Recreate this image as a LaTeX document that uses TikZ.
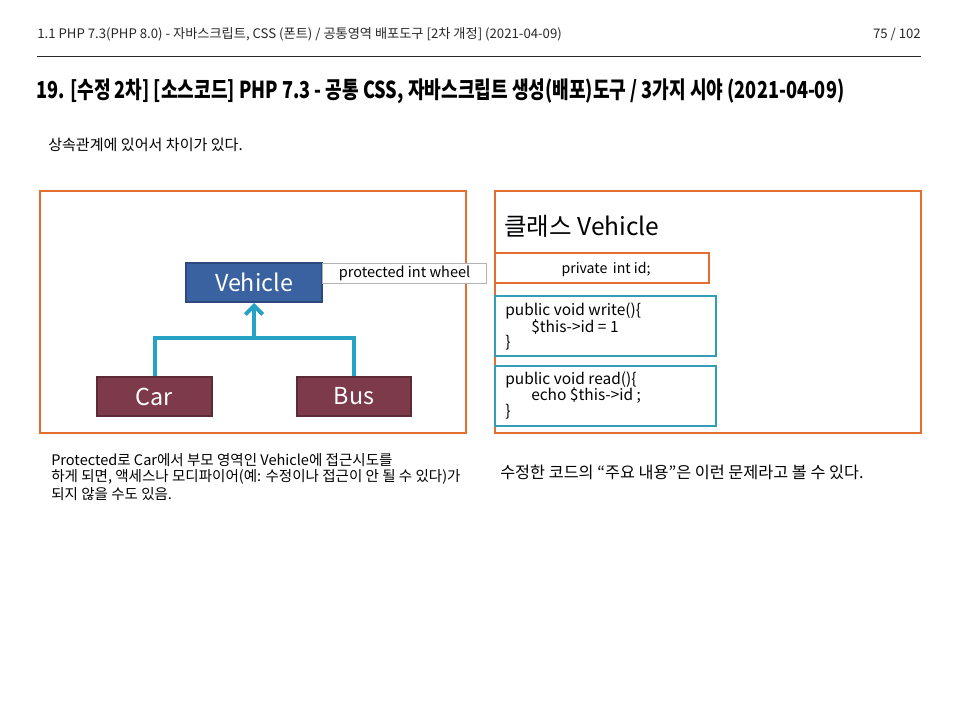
\documentclass[tikz,border=0pt]{standalone}
\usepackage{fontspec}
\setmainfont{Noto Sans CJK KR}
\usetikzlibrary{arrows.meta}
\definecolor{orng}{RGB}{228,110,48}
\definecolor{vblue}{RGB}{58,97,160}
\definecolor{vblueb}{RGB}{44,74,125}
\definecolor{maroon}{RGB}{124,58,75}
\definecolor{maroonb}{RGB}{94,42,56}
\definecolor{tealc}{RGB}{38,163,196}
\definecolor{tealb}{RGB}{52,156,182}
\definecolor{hdr}{RGB}{40,40,40}
\tikzset{
  panel/.style={draw=orng, line width=2pt},
  cls/.style={line width=1.5pt, minimum height=29.25pt, text=white, font=\fontsize{17.5}{20}\selectfont, inner sep=0pt},
  conn/.style={draw=tealc, line width=3pt},
  txt/.style={anchor=west, inner sep=0pt, font=\fontsize{9.5}{12}\selectfont},
  code/.style={anchor=west, inner sep=0pt, font=\fontsize{11.6}{14}\selectfont},
  note/.style={anchor=west, inner sep=0pt, font=\fontsize{10.9}{13}\selectfont},
  codebox/.style={draw=tealb, line width=2pt},
}
\begin{document}
\begin{tikzpicture}[x=0.75pt,y=-0.75pt]
\useasboundingbox (0,0) rectangle (960,720);
\fill[white] (0,0) rectangle (960,720);
% header
\node[txt, text=hdr, font=\fontsize{9.9}{12}\selectfont] (hd) at (37,34) {1.1 PHP 7.3(PHP 8.0) - 자바스크립트, CSS (폰트) / 공통영역 배포도구 [2차 개정] (2021-04-09)};
\node[anchor=east, inner sep=0pt, text=hdr, font=\fontsize{9.9}{12}\selectfont] (pg) at (921,34) {75 / 102};
\draw[hdr, line width=0.75pt] (37,57) -- (921,57);
\node[anchor=west, inner sep=0pt] (title) at (36,91) {\resizebox{606pt}{\height}{\bfseries\fontsize{17.5}{20}\selectfont 19. [수정 2차] [소스코드] PHP 7.3 - 공통 CSS, 자바스크립트 생성(배포)도구 / 3가지 시야 (2021-04-09)}};
\node[txt, font=\fontsize{11.3}{13}\selectfont] (intro) at (48,145) {상속관계에 있어서 차이가 있다.};
% left panel
\draw[panel] (40,191) rectangle (466,433);
\node[cls, fill=vblue, draw=vblueb, minimum width=102pt] (veh) at (254,282.5) {Vehicle};
\node[cls, fill=maroon, draw=maroonb, minimum width=86pt] (car) at (154.5,396.5) {Car};
\node[cls, fill=maroon, draw=maroonb, minimum width=85pt] (bus) at (354,396.5) {Bus};
\node[draw=gray!60, fill=white, line width=0.75pt, anchor=north west, minimum width=123pt, minimum height=15pt, inner sep=0pt, font=\fontsize{10.9}{12}\selectfont] (prot) at (322,263) {protected int wheel};
\coordinate (j) at (254,338);
\draw[conn] (car.north) -- (car.north |- j) -- (bus.north |- j) -- (bus.north);
\draw[conn, -{Straight Barb[length=6.5pt,width=13pt]}] (j) -- (veh.south);
% right panel
\draw[panel] (495,191) rectangle (921,433);
\node[anchor=west, inner sep=0pt, font=\fontsize{18.4}{22}\selectfont] (ct) at (504,226) {클래스 Vehicle};
\draw[draw=orng, line width=2pt] (495,253) rectangle (709,283);
\node[inner sep=0pt, font=\fontsize{10.6}{12}\selectfont] (priv) at (606,269) {private\, int id;};
\draw[codebox] (495,296) rectangle (716,356);
\node[code] (w1) at (505,311) {public void write()\{};
\node[code] (w2) at (531,327) {\$this->id = 1};
\node[code] (w3) at (505,343) {\}};
\draw[codebox] (495,366) rectangle (716,426);
\node[code] (r1) at (505,380) {public void read()\{};
\node[code] (r2) at (531,396) {echo \$this->id ;};
\node[code] (r3) at (505,412) {\}};
% bottom notes
\node[note] (n1) at (51,460) {Protected로 Car에서 부모 영역인 Vehicle에 접근시도를};
\node[note] (n2) at (51,477) {하게 되면, 액세스나 모디파이어(예: 수정이나 접근이 안 될 수 있다)가};
\node[note] (n3) at (51,494) {되지 않을 수도 있음.};
\node[anchor=west, inner sep=0pt, font=\fontsize{12.2}{14}\selectfont] (n4) at (500,472) {수정한 코드의 “주요 내용”은 이런 문제라고 볼 수 있다.};
\end{tikzpicture}
\end{document}
